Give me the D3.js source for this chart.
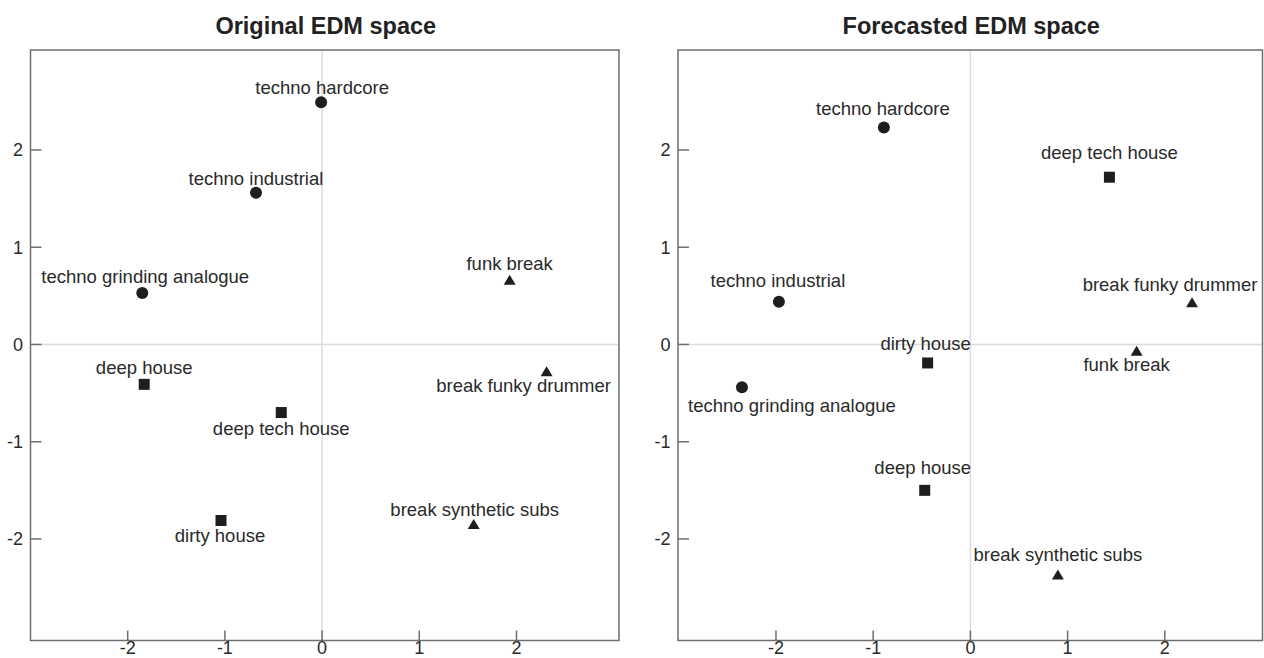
<!DOCTYPE html>
<html>
<head>
<meta charset="utf-8">
<script src="https://cdn.jsdelivr.net/npm/d3@7"></script>
<style>
  body { margin: 0; background: #fff; }
  svg { display: block; font-family: "Liberation Sans", Arial, sans-serif; }
</style>
</head>
<body>
<svg id="chart" width="1264" height="658"></svg>
<script>
// Genres and their group (shape)
const genres = ["techno hardcore", "techno industrial", "techno grinding analogue",
  "deep house", "deep tech house", "dirty house",
  "funk break", "break funky drummer", "break synthetic subs"];
const groups = ["circle", "circle", "circle", "square", "square", "square", "triangle", "triangle", "triangle"];

// Original EDM space coordinates
const origX = [-0.01, -0.68, -1.85, -1.83, -0.42, -1.04, 1.93, 2.31, 1.56];
const origY = [2.49, 1.56, 0.53, -0.41, -0.70, -1.81, 0.66, -0.28, -1.85];

// Forecasted EDM space coordinates
const foreX = [-0.89, -1.97, -2.35, -0.47, 1.43, -0.44, 1.71, 2.28, 0.90];
const foreY = [2.23, 0.44, -0.44, -1.50, 1.72, -0.19, -0.07, 0.43, -2.37];

const ticks = [-2, -1, 0, 1, 2];

// label placement relative to marker (px)
const origLabelPos = [[1, -8], [0, -8], [3, -10], [0, -10], [0, 22], [-1, 22], [0, -10], [-23, 20], [1, -8]];
const foreLabelPos = [[-1, -13], [-1, -15], [50, 25], [-2, -16], [0, -18], [-2, -13], [-10, 20], [-22, -12], [0, -14]];

const svg = d3.select("#chart");
const ink = "#1e1e1e";
const axisCol = "#6e6e6e";

function panel(title, xs, ys, labelPos, x0, x1, xDomain) {
  const top = 50, bottom = 640.5;
  let x = d3.scaleLinear().domain(xDomain).range([x0, x1]);
  let y = d3.scaleLinear().domain([-3.044, 3.028]).range([bottom, top]);

  let g = svg.append("g");

  // zero lines
  g.append("line")
    .attr("x1", x(0)).attr("x2", x(0)).attr("y1", top).attr("y2", bottom)
    .attr("stroke", "#dcdcdc").attr("stroke-width", 1.5);
  g.append("line")
    .attr("x1", x0).attr("x2", x1).attr("y1", y(0)).attr("y2", y(0))
    .attr("stroke", "#dcdcdc").attr("stroke-width", 1.5);

  // frame
  g.append("rect")
    .attr("x", x0).attr("y", top)
    .attr("width", x1 - x0).attr("height", bottom - top)
    .attr("fill", "none").attr("stroke", axisCol).attr("stroke-width", 1.5);

  // ticks (inward)
  g.selectAll(".xt").data(ticks).join("line")
    .attr("x1", d => x(d)).attr("x2", d => x(d))
    .attr("y1", bottom).attr("y2", bottom - 10)
    .attr("stroke", axisCol).attr("stroke-width", 1.5);
  g.selectAll(".yt").data(ticks).join("line")
    .attr("x1", x0).attr("x2", x0 + 11)
    .attr("y1", d => y(d)).attr("y2", d => y(d))
    .attr("stroke", axisCol).attr("stroke-width", 1.5);

  g.selectAll(".xl").data(ticks).join("text")
    .attr("x", d => x(d)).attr("y", 654)
    .attr("text-anchor", "middle")
    .attr("font-size", 18).attr("fill", "#2a2a2a")
    .text(d => d);
  g.selectAll(".yl").data(ticks).join("text")
    .attr("x", x0 - 7.5).attr("y", d => y(d))
    .attr("dy", "0.35em")
    .attr("text-anchor", "end")
    .attr("font-size", 18).attr("fill", "#2a2a2a")
    .text(d => d);

  // title
  g.append("text")
    .attr("x", (x0 + x1) / 2 + 1).attr("y", 34)
    .attr("text-anchor", "middle")
    .attr("font-size", 23.5).attr("font-weight", "bold").attr("fill", "#222")
    .text(title);

  // markers
  let pts = genres.map((name, i) => ({ name: name, shape: groups[i], x: xs[i], y: ys[i], lp: labelPos[i] }));

  g.selectAll(".mk").data(pts).join("path")
    .attr("transform", d => `translate(${x(d.x)},${y(d.y)})`)
    .attr("d", d => {
      if (d.shape == "circle") return "M6,0A6,6 0 1,1 -6,0A6,6 0 1,1 6,0Z";
      if (d.shape == "square") return "M-5.5,-5.5H5.5V5.5H-5.5Z";
      return "M0,-5.5L6,4.5H-6Z";
    })
    .attr("fill", ink);

  g.selectAll(".lb").data(pts).join("text")
    .attr("x", d => x(d.x) + d.lp[0])
    .attr("y", d => y(d.y) + d.lp[1])
    .attr("text-anchor", "middle")
    .attr("font-size", 18.5).attr("fill", "#2a2a2a")
    .text(d => d.name);
}

panel("Original EDM space", origX, origY, origLabelPos, 30.5, 619, [-3.0, 3.055]);
panel("Forecasted EDM space", foreX, foreY, foreLabelPos, 678, 1262.5, [-3.008, 3.005]);
</script>
</body>
</html>
